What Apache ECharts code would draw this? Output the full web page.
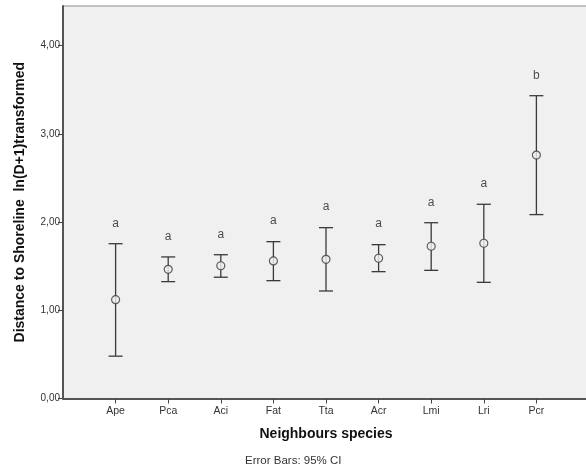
<!DOCTYPE html>
<html>
<head>
<meta charset="utf-8">
<script src="https://cdn.jsdelivr.net/npm/echarts@6/dist/echarts.min.js"></script>
<style>
  html, body { margin: 0; padding: 0; background: #fff; overflow: hidden; }
  #chart { width: 600px; height: 471px; }
</style>
</head>
<body>
<div id="chart"></div>
<script>
  const species = ['Ape', 'Pca', 'Aci', 'Fat', 'Tta', 'Acr', 'Lmi', 'Lri', 'Pcr'];
  const means = [1.12, 1.465, 1.505, 1.56, 1.578, 1.59, 1.726, 1.76, 2.76];
  const lowerCI = [0.48, 1.325, 1.375, 1.336, 1.219, 1.438, 1.453, 1.317, 2.085];
  const upperCI = [1.755, 1.605, 1.63, 1.778, 1.937, 1.744, 1.993, 2.202, 3.433];
  const groups = ['a', 'a', 'a', 'a', 'a', 'a', 'a', 'a', 'b'];
  const yTicks = [0, 1, 2, 3, 4];

  const font = '"Liberation Sans", Arial, sans-serif';
  const ink = '#333';

  const pos = (i) => i + 1;

  // the plot runs a few pixels past the right edge of the 586px window
  const chart = echarts.init(document.getElementById('chart'), null, {renderer: 'canvas'});
  chart.setOption({
    animation: false,
    grid: {
      left: 63, right: 11, top: 6, bottom: 72.5,
      show: true, backgroundColor: '#f0f0f0', borderColor: '#8c8c8c', borderWidth: 1,
    },
    xAxis: {
      type: 'value',
      min: 0, max: 10,
      name: 'Neighbours species',
      nameLocation: 'middle',
      nameGap: 29,
      nameTextStyle: {fontFamily: font, fontSize: 14, fontWeight: 'bold', color: '#111'},
      axisLine: {lineStyle: {color: '#555', width: 2}},
      axisTick: {
        show: true, length: 5, lineStyle: {color: '#444', width: 1},
        customValues: species.map((_, i) => pos(i)),
      },
      axisLabel: {
        fontFamily: font, fontSize: 10.5, color: ink, margin: 7,
        customValues: species.map((_, i) => pos(i)),
        formatter: (v) => species[v - 1] || '',
      },
      splitLine: {show: false},
    },
    yAxis: {
      type: 'value',
      min: 0, max: 4.45,
      name: 'Distance to Shoreline  ln(D+1)transformed',
      nameLocation: 'middle',
      nameGap: 36,
      nameTextStyle: {fontFamily: font, fontSize: 14, fontWeight: 'bold', color: '#111'},
      axisLine: {show: true, lineStyle: {color: '#555', width: 2}},
      axisTick: {show: true, length: 5, lineStyle: {color: '#444', width: 1}, customValues: yTicks},
      axisLabel: {
        fontFamily: font, fontSize: 10, color: ink, margin: 3,
        customValues: yTicks,
        formatter: (v) => v.toFixed(2).replace('.', ','),
      },
      splitLine: {show: false},
    },
    graphic: [{
      type: 'text', left: 245, top: 455,
      style: {
        text: 'Error Bars: 95% CI', fontFamily: font, fontSize: 11.5, fill: ink,
      },
    }],
    series: [
      {
        type: 'custom',
        data: species.map((_, i) => [pos(i), lowerCI[i], upperCI[i]]),
        encode: {x: 0, y: [1, 2]},
        renderItem: (params, api) => {
          const x = api.value(0);
          const lo = api.coord([x, api.value(1)]);
          const hi = api.coord([x, api.value(2)]);
          const half = 7;
          const style = {stroke: '#3a3a3a', lineWidth: 1.3};
          return {
            type: 'group',
            children: [
              {type: 'line', shape: {x1: lo[0], y1: lo[1], x2: hi[0], y2: hi[1]}, style},
              {type: 'line', shape: {x1: hi[0] - half, y1: hi[1], x2: hi[0] + half, y2: hi[1]}, style},
              {type: 'line', shape: {x1: lo[0] - half, y1: lo[1], x2: lo[0] + half, y2: lo[1]}, style},
            ],
          };
        },
        z: 2,
      },
      {
        type: 'scatter',
        data: means.map((m, i) => [pos(i), m]),
        symbol: 'circle',
        symbolSize: 8,
        itemStyle: {color: '#f0f0f0', borderColor: '#3a3a3a', borderWidth: 1.2},
        z: 3,
      },
      {
        type: 'scatter',
        data: upperCI.map((u, i) => [pos(i), u]),
        symbol: 'circle',
        symbolSize: 1,
        itemStyle: {color: 'rgba(0,0,0,0)'},
        silent: true,
        label: {
          show: true, position: 'top', distance: 14,
          fontFamily: font, fontSize: 12, color: '#222',
          formatter: (p) => groups[p.dataIndex],
        },
        z: 4,
      },
    ],
  });
</script>
</body>
</html>
